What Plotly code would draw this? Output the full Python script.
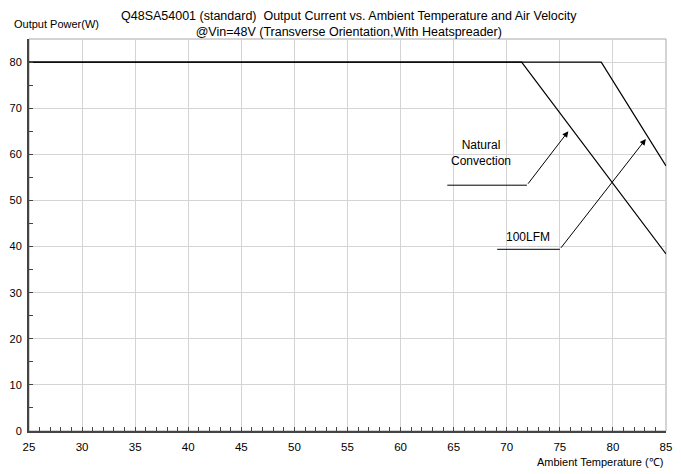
import plotly.graph_objects as go

# Derating curves (Ambient Temperature degC, Output Power W)
nat_temp = [25, 71.4, 85]
nat_power = [80, 80, 38.4]
lfm_temp = [25, 78.9, 85]
lfm_power = [80, 80, 57.5]

# Leader lines for the labels: horizontal stub start/end, arrow tip
nat_leader_x = [64.4, 71.9]
nat_leader_y = [53.3, 53.3]
nat_tip = (75.8, 65.0)
lfm_leader_x = [69.1, 75.0]
lfm_leader_y = [39.4, 39.4]
lfm_tip = (83.1, 63.3)

x_ticks = list(range(25, 86, 5))
y_ticks = list(range(0, 81, 10))

FONT = "Liberation Sans, Arial, sans-serif"

# The page body has an 8px default margin; size the figure so it fits the window.
OFF = 8
FIG_W, FIG_H = 681 - OFF, 474 - OFF
PL, PR, PT, PB = 29.0, 665.7, 39.3, 431.5   # plot area in window pixels

def px(p):
    return (p - PL) / (PR - PL)

def py(p):
    return (PB - p) / (PB - PT)

fig = go.Figure()
line_style = dict(color="black", width=1.2)
fig.add_trace(go.Scatter(x=nat_temp, y=nat_power, mode="lines", line=line_style, hoverinfo="skip"))
fig.add_trace(go.Scatter(x=lfm_temp, y=lfm_power, mode="lines", line=line_style, hoverinfo="skip"))
fig.add_trace(go.Scatter(x=nat_leader_x, y=nat_leader_y, mode="lines", line=dict(color="black", width=1), hoverinfo="skip"))
fig.add_trace(go.Scatter(x=lfm_leader_x, y=lfm_leader_y, mode="lines", line=dict(color="black", width=1), hoverinfo="skip"))

annotations = [
    dict(x=nat_tip[0], y=nat_tip[1], ax=nat_leader_x[1], ay=nat_leader_y[1],
         xref="x", yref="y", axref="x", ayref="y", showarrow=True, arrowhead=2,
         arrowsize=1.2, arrowwidth=1, arrowcolor="black", text=""),
    dict(x=lfm_tip[0], y=lfm_tip[1], ax=lfm_leader_x[1], ay=lfm_leader_y[1],
         xref="x", yref="y", axref="x", ayref="y", showarrow=True, arrowhead=2,
         arrowsize=1.2, arrowwidth=1, arrowcolor="black", text=""),
    dict(x=67.6, y=60.2, xref="x", yref="y", showarrow=False,
         text="Natural<br>Convection", font=dict(size=12, color="black", family=FONT)),
    dict(x=72.0, y=42.0, xref="x", yref="y", showarrow=False,
         text="100LFM", font=dict(size=12, color="black", family=FONT)),
    dict(x=px(349), y=py(24), xref="paper", yref="paper", showarrow=False,
         text="Q48SA54001 (standard)  Output Current vs. Ambient Temperature and Air Velocity"
              "<br>@Vin=48V (Transverse Orientation,With Heatspreader)",
         font=dict(size=12.5, color="black", family=FONT), xanchor="center", yanchor="middle",
         align="center", borderpad=0),
    dict(x=px(12), y=py(24), xref="paper", yref="paper", showarrow=False,
         text="Output Power(W)", font=dict(size=11, color="black", family=FONT),
         xanchor="left", yanchor="middle"),
    dict(x=px(665), y=py(463), xref="paper", yref="paper", showarrow=False,
         text="Ambient Temperature (℃)", font=dict(size=11, color="black", family=FONT),
         xanchor="right", yanchor="middle"),
]

fig.update_layout(
    width=FIG_W, height=FIG_H,
    margin=dict(l=PL - OFF, r=FIG_W - (PR - OFF), t=PT - OFF, b=FIG_H - (PB - OFF), pad=0),
    paper_bgcolor="white", plot_bgcolor="white",
    showlegend=False,
    annotations=annotations,
    font=dict(family=FONT, size=11, color="black"),
)
fig.update_xaxes(
    range=[25, 85], tickvals=x_ticks, ticktext=[str(v) for v in x_ticks],
    showgrid=True, gridcolor="#d4d4d4", gridwidth=1,
    showline=True, linecolor="#444444", linewidth=2, mirror=False,
    ticks="inside", ticklen=4, tickcolor="#444444", ticklabelstandoff=4,
    minor=dict(dtick=1, ticks="inside", ticklen=4, tickcolor="#444444", showgrid=False),
    tickfont=dict(size=11.5, color="black", family=FONT), zeroline=False,
    automargin=False, fixedrange=True,
)
fig.update_yaxes(
    range=[0, 85], tickvals=y_ticks, ticktext=[str(v) for v in y_ticks],
    showgrid=True, gridcolor="#d4d4d4", gridwidth=1,
    showline=True, linecolor="#444444", linewidth=2,
    ticks="inside", ticklen=4, tickcolor="#444444", ticklabelstandoff=3,
    minor=dict(dtick=5, ticks="inside", ticklen=4, tickcolor="#444444", showgrid=False),
    tickfont=dict(size=11, color="black", family=FONT), zeroline=False,
    automargin=False, fixedrange=True,
)
# gray frame on top and right
fig.add_shape(type="rect", xref="paper", yref="paper", x0=0, y0=0, x1=1, y1=1,
              line=dict(color="#a8a8a8", width=1), layer="below")

fig.write_html("out.html")
